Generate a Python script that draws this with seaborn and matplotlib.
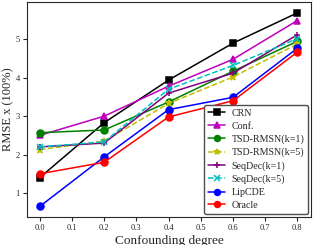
import seaborn as sns
import pandas as pd
import numpy as np
import matplotlib
matplotlib.use("Agg")
import matplotlib.pyplot as plt

sns.set_style("ticks")
plt.rcParams['font.family'] = ['Liberation Serif', 'DejaVu Serif']

degree = [0.0, 0.2, 0.4, 0.6, 0.8]
crn = [1.40, 2.83, 3.94, 4.90, 5.69]
conf = [2.50, 3.00, 3.78, 4.48, 5.49]
tsd1 = [2.57, 2.64, 3.37, 4.17, 4.95]
tsd5 = [2.13, 2.35, 3.33, 4.02, 4.88]
seq1 = [2.20, 2.30, 3.60, 4.12, 5.12]
seq5 = [2.20, 2.33, 3.70, 4.32, 5.02]
lipcde = [0.65, 1.94, 3.17, 3.49, 4.77]
oracle = [1.50, 1.80, 2.98, 3.40, 4.67]

series = [
    ("CRN", crn, "black", "s", "-"),
    ("Conf.", conf, "m", "^", "-"),
    ("TSD-RMSN(k=1)", tsd1, "green", "o", "-"),
    ("TSD-RMSN(k=5)", tsd5, "y", "*", "--"),
    ("SeqDec(k=1)", seq1, "purple", "+", "-"),
    ("SeqDec(k=5)", seq5, "c", "x", "--"),
    ("LipCDE", lipcde, "blue", "o", "-"),
    ("Oracle", oracle, "red", "o", "-"),
]

fig, ax = plt.subplots(figsize=(3.16, 2.45), dpi=100)
for name, vals, col, mk, ls in series:
    df = pd.DataFrame({"x": degree, "y": vals})
    sns.lineplot(data=df, x="x", y="y", ax=ax, color=col, marker=mk,
                 linestyle=ls, label=name, markersize=5, linewidth=1.1,
                 markeredgecolor=col, markeredgewidth=1.1)

ax.set_xlim(-0.04, 0.843)
ax.set_ylim(0.38, 5.96)
ax.set_xticks(np.arange(0, 0.81, 0.1))
ax.set_yticks([1, 2, 3, 4, 5])
ax.tick_params(labelsize=6, length=3, pad=2)
ax.set_xlabel("Confounding degree", fontsize=9.5, labelpad=2)
ax.set_ylabel("RMSE x (100%)", fontsize=9, labelpad=1)
leg = ax.legend(loc="lower right", fontsize=7.2, frameon=True, handlelength=1.7,
                handletextpad=0.6, labelspacing=0.38, borderpad=0.4,
                markerscale=0.85, framealpha=1, borderaxespad=0.3)
leg.get_frame().set_edgecolor("0.3")
fig.subplots_adjust(left=0.085, right=0.985, top=0.99, bottom=0.115)
fig.savefig("out.png", dpi=100)
